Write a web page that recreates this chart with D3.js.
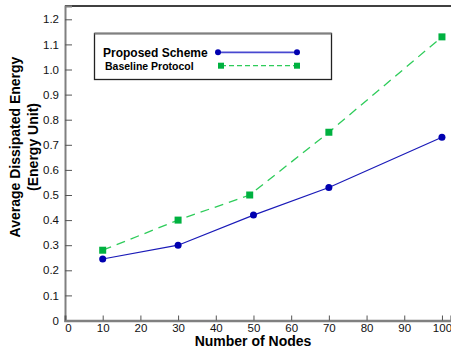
<!DOCTYPE html>
<html>
<head>
<meta charset="utf-8">
<script src="https://cdn.jsdelivr.net/npm/d3@7"></script>
<style>
  body { margin: 0; background: #fff; }
  text { font-family: "Liberation Sans", Arial, sans-serif; }
</style>
</head>
<body>
<div id="chart"></div>
<script>
// Chart data
const proposedX = [10, 30, 50, 70, 100];
const proposedY = [0.245, 0.30, 0.42, 0.53, 0.73];
const baselineX = [10, 30, 49, 70, 100];
const baselineY = [0.28, 0.40, 0.50, 0.75, 1.13];
const xTicks = [0, 10, 20, 30, 40, 50, 60, 70, 80, 90, 100];
const yTicks = [0, 0.1, 0.2, 0.3, 0.4, 0.5, 0.6, 0.7, 0.8, 0.9, 1.0, 1.1, 1.2];
const seriesNames = ['Proposed Scheme', 'Baseline Protocol'];

const width = 451, height = 349;
const margin = { left: 65, top: 6, right: 0, bottom: 28.5 };

const svg = d3.select('#chart').append('svg')
    .attr('width', width)
    .attr('height', height);

const x = d3.scaleLinear().domain([0, 102.4]).range([margin.left, width - margin.right]);
const y = d3.scaleLinear().domain([0, 1.253]).range([height - margin.bottom, margin.top]);

// Top frame line
svg.append('line')
    .attr('x1', margin.left).attr('x2', width)
    .attr('y1', margin.top).attr('y2', margin.top)
    .attr('stroke', '#000').attr('stroke-width', 1.5);

// Y axis
const yAxis = svg.append('g')
    .attr('transform', `translate(${margin.left},0)`)
    .call(d3.axisRight(y).tickValues(yTicks).tickSize(7)
        .tickFormat(d => d === 0 ? '0' : d3.format('.1f')(d)));
yAxis.select('.domain').attr('stroke', '#808080').attr('stroke-width', 2);
yAxis.selectAll('.tick line').attr('stroke', '#555');
yAxis.selectAll('.tick text')
    .attr('x', -6).attr('text-anchor', 'end')
    .style('font-size', '11.5px').attr('fill', '#111');

// X axis
const xAxis = svg.append('g')
    .attr('transform', `translate(0,${height - margin.bottom})`)
    .call(d3.axisTop(x).tickValues(xTicks).tickSize(5));
xAxis.select('.domain').attr('stroke', '#808080').attr('stroke-width', 2.5);
xAxis.selectAll('.tick line').attr('stroke', '#555');
xAxis.selectAll('.tick text')
    .attr('y', 11).attr('dy', 0)
    .style('font-size', '11.5px').attr('fill', '#111');
xAxis.selectAll('.tick').filter(d => d === 0).select('text').attr('x', 3);

// Axis titles
svg.append('text')
    .attr('x', 253).attr('y', 346)
    .attr('text-anchor', 'middle')
    .style('font-size', '14px').style('font-weight', 'bold')
    .text('Number of Nodes');

svg.append('text')
    .attr('transform', 'translate(20,147) rotate(-90)')
    .attr('text-anchor', 'middle')
    .style('font-size', '14px').style('font-weight', 'bold')
    .text('Average Dissipated Energy');
svg.append('text')
    .attr('transform', 'translate(38,147) rotate(-90)')
    .attr('text-anchor', 'middle')
    .style('font-size', '14px').style('font-weight', 'bold')
    .text('(Energy Unit)');

// Series
const line = d3.line().x(d => x(d[0])).y(d => y(d[1]));
const proposed = proposedX.map((v, i) => [v, proposedY[i]]);
const baseline = baselineX.map((v, i) => [v, baselineY[i]]);

svg.append('path')
    .datum(baseline)
    .attr('d', line)
    .attr('fill', 'none')
    .attr('stroke', '#2ecc5a')
    .attr('stroke-width', 1.3)
    .attr('stroke-dasharray', '9,6');

svg.append('path')
    .datum(proposed)
    .attr('d', line)
    .attr('fill', 'none')
    .attr('stroke', '#1a1ab8')
    .attr('stroke-width', 1.2);

svg.append('g').selectAll('rect')
    .data(baseline)
    .enter().append('rect')
    .attr('x', d => x(d[0]) - 3.5)
    .attr('y', d => y(d[1]) - 3.5)
    .attr('width', 7).attr('height', 7)
    .attr('fill', '#00b140');

svg.append('g').selectAll('circle')
    .data(proposed)
    .enter().append('circle')
    .attr('cx', d => x(d[0]))
    .attr('cy', d => y(d[1]))
    .attr('r', 3.5)
    .attr('fill', '#0000b0');

// Legend
const legend = svg.append('g');
legend.append('rect')
    .attr('x', 94.5).attr('y', 33.5)
    .attr('width', 237).attr('height', 46)
    .attr('fill', '#fff')
    .attr('stroke', '#222').attr('stroke-width', 1.3);
legend.append('line')
    .attr('x1', 94.5).attr('x2', 331.5)
    .attr('y1', 33.5).attr('y2', 33.5)
    .attr('stroke', '#808080').attr('stroke-width', 2);

legend.append('text')
    .attr('x', 103).attr('y', 56.5)
    .style('font-size', '12px').style('font-weight', 'bold')
    .text(seriesNames[0]);
legend.append('text')
    .attr('x', 105).attr('y', 70)
    .style('font-size', '10.5px').style('font-weight', 'bold')
    .text(seriesNames[1]);

legend.append('line')
    .attr('x1', 218).attr('x2', 297).attr('y1', 52.3).attr('y2', 52.3)
    .attr('stroke', '#4848d0').attr('stroke-width', 1.8);
[218, 297].forEach(cx => legend.append('circle')
    .attr('cx', cx).attr('cy', 52.3).attr('r', 3)
    .attr('fill', '#0000b0'));

legend.append('line')
    .attr('x1', 221).attr('x2', 297).attr('y1', 65.7).attr('y2', 65.7)
    .attr('stroke', '#2ecc5a').attr('stroke-width', 1.3)
    .attr('stroke-dasharray', '5,3');
[221, 297].forEach(cx => legend.append('rect')
    .attr('x', cx - 3).attr('y', 62.7).attr('width', 6).attr('height', 6)
    .attr('fill', '#00b140'));
</script>
</body>
</html>
